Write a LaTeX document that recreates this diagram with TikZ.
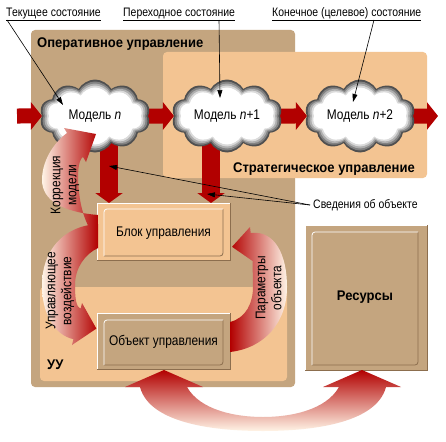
\documentclass[tikz,border=0pt]{standalone}
\usepackage{fontspec}
\setmainfont{Liberation Sans}[FakeStretch=0.85]
\newfontfamily\titlefont{Liberation Sans}[FakeStretch=0.93]
\usetikzlibrary{shapes.symbols,arrows.meta}
\pgfdeclarelayer{bg}
\pgfdeclarelayer{arr}
\pgfsetlayers{bg,arr,main}
\definecolor{darkred}{RGB}{178,0,0}
\definecolor{tanc}{RGB}{196,165,127}
\definecolor{peachc}{RGB}{243,196,146}
\definecolor{palec}{RGB}{255,244,230}
\definecolor{bevelc}{RGB}{140,110,78}
\definecolor{cga}{RGB}{80,80,80}
\definecolor{cgb}{RGB}{130,130,130}
\definecolor{cgc}{RGB}{175,175,175}
\definecolor{cgd}{RGB}{218,218,218}
\tikzset{
  title/.style={font=\titlefont\bfseries\fontsize{14}{16}\selectfont, inner sep=0pt},
  callout/.style={font=\fontsize{12.3}{14}\selectfont, inner sep=0pt},
  arclabel/.style={font=\fontsize{14}{16}\selectfont, inner sep=0pt, align=center, rotate=90},
  boxlabel/.style={font=\fontsize{14}{16}\selectfont, inner sep=0pt},
  cloudlayer/.style={cloud, cloud puffs=10, cloud puff arc=120, aspect=1.55, inner sep=0pt, outer sep=0pt, draw=none},
  bigarrow/.style={draw=darkred, line width=15pt, -{Triangle[length=11pt,width=27pt]}},
  varrow/.style={draw=darkred, line width=18pt, -{Triangle[length=10pt,width=27pt]}},
  pointer/.style={draw=black, line width=0.6pt, -{Triangle[length=8pt,width=5pt]}},
  boxnode/.style={inner sep=0pt, outer sep=0pt},
}
\newcommand{\mycloud}[4]{%
  \node[cloudlayer, fill=cga, minimum width=111pt, minimum height=73pt] (#1o) at (#2,#3) {};
  \node[cloudlayer, fill=cgb, minimum width=107pt, minimum height=69pt] (#1a) at (#2,#3) {};
  \node[cloudlayer, fill=cgc, minimum width=103pt, minimum height=65pt] (#1b) at (#2,#3) {};
  \node[cloudlayer, fill=cgd, minimum width=99pt, minimum height=61pt] (#1c) at (#2,#3) {};
  \node[cloudlayer, fill=white, minimum width=95pt, minimum height=57pt] (#1d) at (#2,#3) {};
  \node[boxlabel] (#1) at (#2,#3) {#4};
}
\newcommand{\mybevel}[5]{% node, left, top, right, bottom insets
  \draw[bevelc, line width=0.8pt] (#1.north east) -- (#1.south east) -- (#1.south west);
  \draw[white, line width=0.8pt] (#1.south west) -- (#1.north west) -- (#1.north east);
  \coordinate (#1tl) at ([shift={(#2,#3)}]#1.north west);
  \coordinate (#1br) at ([shift={(-#4,-#5)}]#1.south east);
  \draw[bevelc, line width=0.8pt, rounded corners=3pt] (#1tl -| #1br) -- (#1br) -- (#1br -| #1tl);
  \draw[white, line width=0.8pt, rounded corners=3pt] (#1br -| #1tl) -- (#1tl) -- (#1tl -| #1br);
}
\begin{document}
\begin{tikzpicture}[x=1pt,y=-1pt]
\useasboundingbox (0,0) rectangle (446,441);
\begin{pgfonlayer}{bg}
  \fill[white] (0,0) rectangle (446,441);
  \fill[tanc, rounded corners=4pt] (31,30) rectangle (295,387);
  \fill[peachc, rounded corners=4pt] (163,52) rectangle (427,178);
  \fill[peachc, rounded corners=4pt] (40,287) rectangle (287,381);
\end{pgfonlayer}

\node[title, anchor=base west] (oper) at (37,48) {Оперативное управление};
\node[title, anchor=base west] (strat) at (233,172) {Стратегическое управление};
\node[title, anchor=base west] (uu) at (47,369) {УУ};

% clouds
\mycloud{m0}{95}{116}{Модель \textit{n}}
\mycloud{m1}{227}{116}{Модель \textit{n}+1}
\mycloud{m2}{360}{116}{Модель \textit{n}+2}

% boxes
\node[boxnode, fill=peachc, minimum width=133pt, minimum height=57pt] (blk) at (163.5,231.5) {};
\mybevel{blk}{7}{6}{7}{4}
\node[boxlabel] (blkt) at (163.5,233) {Блок управления};
\node[boxnode, fill=tanc, minimum width=133pt, minimum height=56pt] (obj) at (163.5,341) {};
\mybevel{obj}{7}{7}{7}{4}
\node[boxlabel] (objt) at (163.5,342) {Объект управления};
\node[boxnode, fill=tanc, minimum width=122pt, minimum height=145pt] (res) at (366,297.5) {};
\mybevel{res}{7}{7}{9}{5}
\node[title] (rest) at (365,297) {Ресурсы};

% straight red arrows
\coordinate (inL) at (17,116);
\coordinate (outR) at (438,116);
\begin{pgfonlayer}{arr}
  \draw[bigarrow] (inL) -- (m0o.west);
  \draw[bigarrow] (m0o.east) -- (m1o.west);
  \draw[bigarrow] (m1o.east) -- (m2o.west);
  \draw[bigarrow] (m2o.east) -- (outR);
  \draw[varrow] ([xshift=14pt]m0o.center) -- ([xshift=-54.5pt]blk.north);
  \draw[varrow] ([xshift=-16pt]m1o.center) -- ([xshift=47.5pt]blk.north);
\end{pgfonlayer}

% curved gradient arrows
\shade[left color=palec, right color=darkred]
  (98,215) .. controls (62,212) and (42,200) .. (42,180)
  .. controls (42,158) and (57,140) .. (67,133) -- (64,128) -- (96,134) -- (86,162) -- (83,157)
  .. controls (78,160) and (77,175) .. (79,192) .. controls (81,212) and (88,230) .. (98,240) -- cycle;
\shade[left color=palec, right color=darkred]
  (98,224) .. controls (62,226) and (42,252) .. (42,285)
  .. controls (42,315) and (55,335) .. (73.4,339.2) -- (72,345) -- (96.4,328.6) -- (82,303) -- (80.6,308.8)
  .. controls (76,307) and (75,298) .. (75,285) .. controls (75,268) and (85,254) .. (98,248) -- cycle;
\shade[left color=darkred, right color=palec]
  (250.7,233) .. controls (275,230) and (287,255) .. (287,287)
  .. controls (287,322) and (265,348) .. (230,352) -- (230,322)
  .. controls (246,318) and (253,303) .. (253,287) .. controls (253,272) and (252,264) .. (253.3,256)
  -- (254,262) -- (232,246.8) -- (250,227) -- cycle;
\shade[top color=darkred, bottom color=palec]
  (125,387) -- (164,370) -- (203,387) -- (187,387)
  .. controls (200,410) and (235,417) .. (263,417) .. controls (291,417) and (326,410) .. (339,387)
  -- (323,387) -- (362,370) -- (401,387) -- (386,387)
  .. controls (376,425) and (306,431) .. (263,431) .. controls (220,431) and (150,425) .. (140,387) -- cycle;

\node[arclabel] (lk) at (65,185) {Коррекция\\модели};
\node[arclabel] (lu) at (60,291) {Управляющее\\воздействие};
\node[arclabel] (lp) at (268.5,288) {Параметры\\объекта};

% callouts
\node[callout, anchor=base west] (t1) at (6,17) {Текущее состояние};
\node[callout, anchor=base west] (t2) at (123,17) {Переходное состояние};
\node[callout, anchor=base west] (t3) at (272,17) {Конечное (целевое) состояние};
\node[callout, anchor=base west] (t4) at (313,208) {Сведения об объекте};
\foreach \t in {t1,t2,t3}{
  \draw[line width=0.6pt] ([shift={(0,3)}]\t.base west) -- ([shift={(0,3)}]\t.base east);
}
\coordinate (p1) at (63,105);
\coordinate (p2) at (220,98);
\coordinate (p3) at (353,102);
\coordinate (p4) at (109,166);
\coordinate (p5) at (207,194);
\draw[pointer] ([shift={(1,3)}]t1.base west) -- (p1);
\draw[pointer] ([shift={(96,3)}]t2.base west) -- (p2);
\draw[pointer] ([shift={(102,3)}]t3.base west) -- (p3);
\draw[pointer] ([shift={(-3,-3)}]t4.base west) -- (p4);
\draw[pointer] ([shift={(-3,-3)}]t4.base west) -- (p5);
\end{tikzpicture}
\end{document}
